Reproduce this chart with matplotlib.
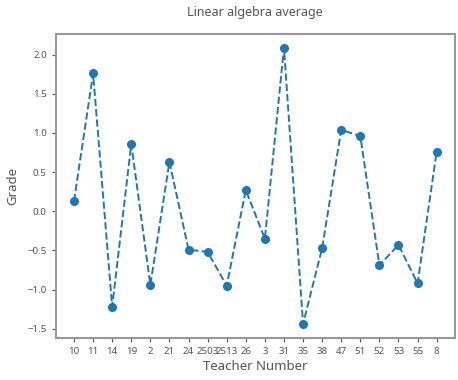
import matplotlib.pyplot as plt

plt.rcParams['font.family'] = ['Noto Sans', 'DejaVu Sans']

teachers = ["10", "11", "14", "19", "2", "21", "24", "2503", "2513", "26",
            "3", "31", "35", "38", "47", "51", "52", "53", "55", "8"]
grades = [0.13, 1.76, -1.22, 0.86, -0.94, 0.63, -0.49, -0.52, -0.95, 0.27,
          -0.35, 2.09, -1.44, -0.47, 1.04, 0.96, -0.69, -0.43, -0.92, 0.76]

fig = plt.figure(figsize=(4.58, 3.8), dpi=100)
ax = fig.add_axes([0.122, 0.111, 0.871, 0.8])

ax.plot(teachers, grades, 'o--', color='#1f77b4', markersize=5.5, linewidth=1.4)

ax.set_title('Linear algebra average', fontsize=9, color='#555555', pad=13)
ax.set_xlabel('Teacher Number', fontsize=9.5, color='#555555', labelpad=3)
ax.set_ylabel('Grade', fontsize=9.5, color='#555555', labelpad=6)
ax.set_yticks([-1.5, -1.0, -0.5, 0.0, 0.5, 1.0, 1.5, 2.0])
ax.tick_params(labelsize=7, colors='#555555', length=3)
for s in ax.spines.values():
    s.set_color('#999999')
    s.set_linewidth(1.5)

plt.savefig('out.png', dpi=100)
